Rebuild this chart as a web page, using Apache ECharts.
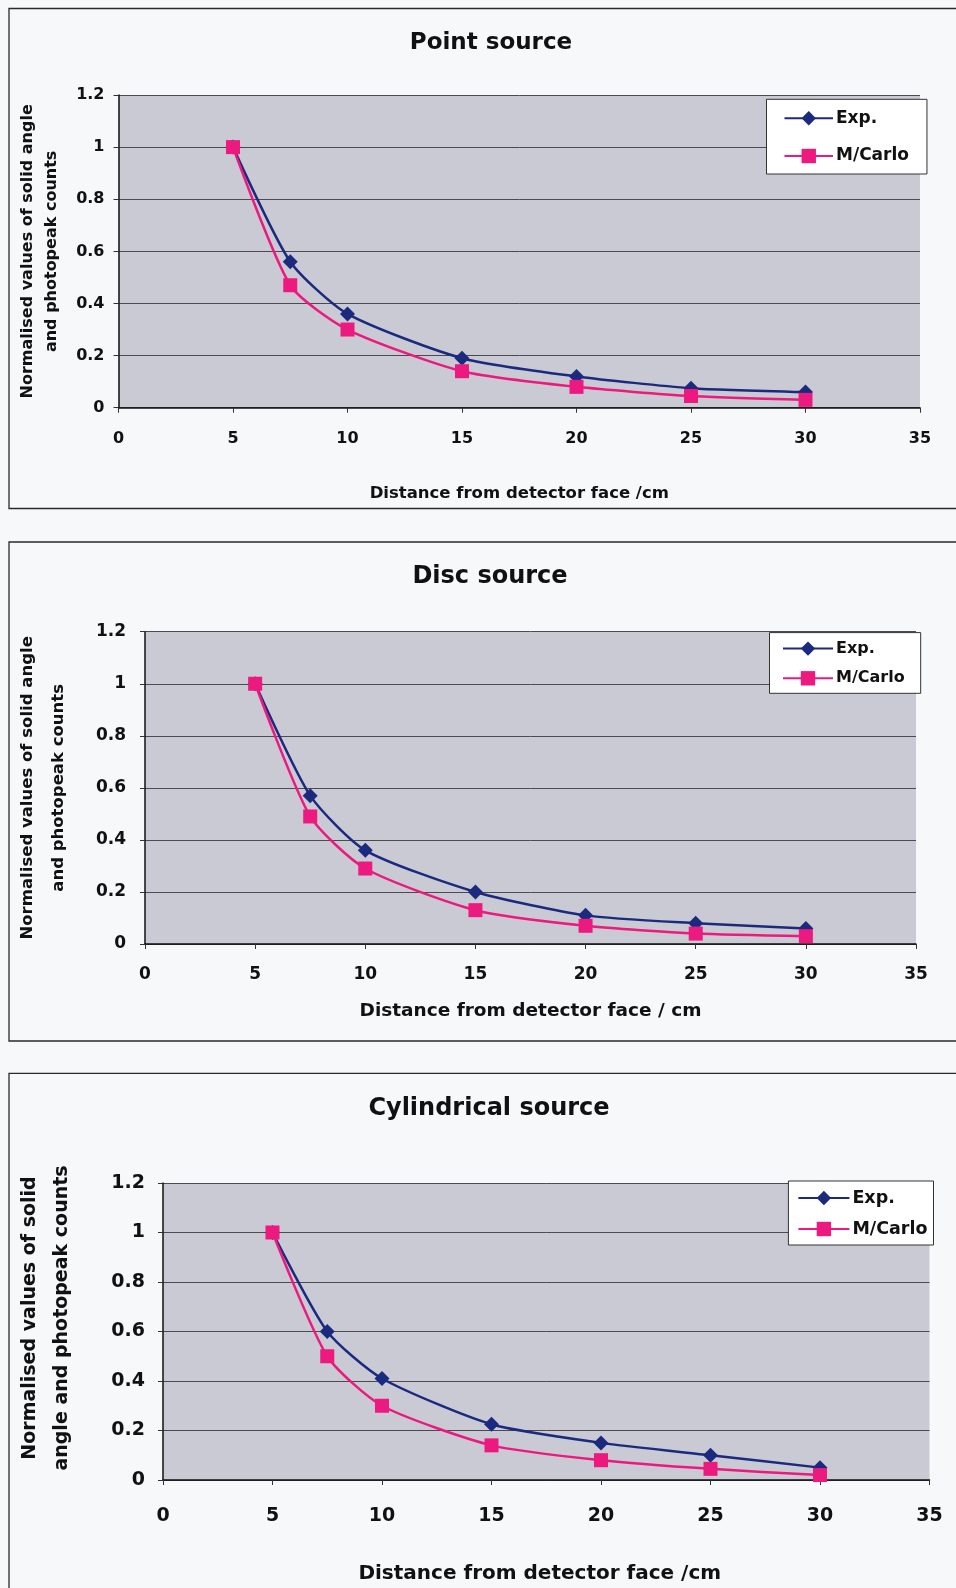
<!DOCTYPE html>
<html>
<head>
<meta charset="utf-8">
<title>Normalised solid angle and photopeak counts vs distance</title>
<script src="https://cdn.jsdelivr.net/npm/echarts@6/dist/echarts.min.js"></script>
<style>
  html, body { margin: 0; padding: 0; background: #f6f8fa; }
  #chart { width: 956px; height: 1588px; }
</style>
</head>
<body>
<div id="chart"></div>
<script>
// Source-to-detector distances (cm) shared by every panel
const distances = [5, 7.5, 10, 15, 20, 25, 30];

// Point source
const pointExp = [1, 0.56, 0.36, 0.19, 0.12, 0.075, 0.06];
const pointMC  = [1, 0.47, 0.30, 0.14, 0.08, 0.045, 0.03];

// Disc source
const discExp = [1, 0.57, 0.36, 0.20, 0.11, 0.08, 0.06];
const discMC  = [1, 0.49, 0.29, 0.13, 0.07, 0.04, 0.03];

// Cylindrical source
const cylExp = [1, 0.60, 0.41, 0.225, 0.15, 0.10, 0.05];
const cylMC  = [1, 0.50, 0.30, 0.14, 0.08, 0.045, 0.02];

const seriesNames = ['Exp.', 'M/Carlo'];
const panelTitles = ['Point source', 'Disc source', 'Cylindrical source'];
const xTitles = ['Distance from detector face /cm', 'Distance from detector face / cm', 'Distance from detector face /cm'];
const yTitles = [
  'Normalised values of solid angle\nand photopeak counts',
  'Normalised values of solid angle\nand photopeak counts',
  'Normalised values of solid\nangle and photopeak counts'
];

const FONT = 'DejaVu Sans';
const EXP_COLOR = '#1b2a7e';
const MC_COLOR = '#ec1a7e';

const pairs = vals => distances.map((d, i) => [d, vals[i]]);

// Layout of the three stacked panels
const panels = [
  { grid: { left: 118.5, right: 36, top: 95, height: 312.7 },
    title: { x: 486, y: 40, size: 23 },
    tick: 16, yMargin: 14, xMargin: 23,
    xName: { size: 16.5, gap: 78, pad: [0, 0, 0, 0] },
    yName: { size: 16, lh: 24.4, gap: 54, pad: [0, 0, 0, 0] },
    legend: { left: 766.5, top: 99.3, pad: [10, 18, 9, 17], gap: 19.7, font: 17, w: 48.5 } },
  { grid: { left: 145, right: 40, top: 631.7, height: 312.3 },
    title: { x: 485, y: 574, size: 24 },
    tick: 17, yMargin: 19, xMargin: 22,
    xName: { size: 18.5, gap: 58, pad: [0, 0, 0, 0] },
    yName: { size: 16.5, lh: 30.6, gap: 71, pad: [0, 0, 0, 0] },
    legend: { left: 769.5, top: 632.6, pad: [7, 16, 6, 12.5], gap: 11.7, font: 16, w: 50 } },
  { grid: { left: 163, right: 26.5, top: 1183, height: 297 },
    title: { x: 484, y: 1106, size: 24 },
    tick: 19, yMargin: 18, xMargin: 27,
    xName: { size: 20, gap: 84, pad: [0, 13, 0, 0] },
    yName: { size: 19, lh: 31.7, gap: 85, pad: [0, 0, 0, 27] },
    legend: { left: 788.4, top: 1181, pad: [8, 6, 7, 9], gap: 13, font: 17.5, w: 51 } }
];

const data = [[pointExp, pointMC], [discExp, discMC], [cylExp, cylMC]];

const option = {
  backgroundColor: '#f6f8fa',
  animation: false,
  title: panels.map((p, i) => ({
    text: panelTitles[i],
    left: p.title.x,
    top: p.title.y - p.title.size * 0.6,
    textAlign: 'center',
    textStyle: { fontFamily: FONT, fontWeight: 'bold', fontSize: p.title.size, color: '#111' }
  })),
  grid: panels.map(p => Object.assign({
    show: true,
    backgroundColor: '#c9cad3',
    borderWidth: 0
  }, p.grid)),
  xAxis: panels.map((p, i) => ({
    type: 'value',
    gridIndex: i,
    min: 0, max: 35, interval: 5,
    name: xTitles[i],
    nameLocation: 'middle',
    nameGap: p.xName.gap,
    nameTextStyle: { fontFamily: FONT, fontWeight: 'bold', fontSize: p.xName.size, color: '#111', padding: p.xName.pad },
    axisLine: { show: true, onZero: false, lineStyle: { color: '#111', width: 1.5 } },
    axisTick: { show: true, inside: false, length: 5, lineStyle: { color: '#333' } },
    axisLabel: { margin: p.xMargin, fontFamily: FONT, fontWeight: 'bold', fontSize: p.tick, color: '#111' },
    splitLine: { show: false }
  })),
  yAxis: panels.map((p, i) => ({
    type: 'value',
    gridIndex: i,
    min: 0, max: 1.2, interval: 0.2,
    name: yTitles[i],
    nameLocation: 'middle',
    nameRotate: 90,
    nameGap: p.yName.gap,
    nameTextStyle: {
      fontFamily: FONT, fontWeight: 'bold', fontSize: p.yName.size,
      lineHeight: p.yName.lh, color: '#111', align: 'center', padding: p.yName.pad
    },
    axisLine: { show: true, lineStyle: { color: '#111', width: 1.5 } },
    axisTick: { show: true, inside: false, length: 5, lineStyle: { color: '#333' } },
    axisLabel: {
      margin: p.yMargin, fontFamily: FONT, fontWeight: 'bold', fontSize: p.tick, color: '#111',
      formatter: v => String(Math.round(v * 10) / 10)
    },
    splitLine: { show: true, lineStyle: { color: '#4a4a50', width: 1 } }
  })),
  legend: panels.map(p => ({
    orient: 'vertical',
    left: p.legend.left,
    top: p.legend.top,
    padding: p.legend.pad,
    itemGap: p.legend.gap,
    itemWidth: p.legend.w,
    itemHeight: 18,
    backgroundColor: '#ffffff',
    borderColor: '#333',
    borderWidth: 1,
    borderRadius: 0,
    selectedMode: false,
    textStyle: {
      fontFamily: FONT, fontWeight: 'bold', fontSize: p.legend.font, lineHeight: 18,
      color: '#111', padding: [0, 0, 0, -2]
    },
    data: seriesNames
  })),
  series: []
};

data.forEach((pair, i) => {
  option.series.push({
    name: seriesNames[0],
    type: 'line',
    xAxisIndex: i, yAxisIndex: i,
    data: pairs(pair[0]),
    smooth: 0.22,
    symbol: 'diamond',
    symbolSize: 15,
    itemStyle: { color: EXP_COLOR },
    lineStyle: { color: EXP_COLOR, width: 2.5 },
    z: 3
  });
  option.series.push({
    name: seriesNames[1],
    type: 'line',
    xAxisIndex: i, yAxisIndex: i,
    data: pairs(pair[1]),
    smooth: 0.22,
    symbol: 'rect',
    symbolSize: 14,
    itemStyle: { color: MC_COLOR },
    lineStyle: { color: MC_COLOR, width: 2.5 },
    z: 4
  });
});

// Thin frames around each panel
option.graphic = [
  { type: 'rect', shape: { x: 9, y: 8.5, width: 960, height: 500 }, style: { fill: 'none', stroke: '#2a2a2a', lineWidth: 1.3 }, silent: true, z: -1 },
  { type: 'rect', shape: { x: 9, y: 542, width: 960, height: 499 }, style: { fill: 'none', stroke: '#2a2a2a', lineWidth: 1.3 }, silent: true, z: -1 },
  { type: 'rect', shape: { x: 9, y: 1073.3, width: 960, height: 540 }, style: { fill: 'none', stroke: '#2a2a2a', lineWidth: 1.3 }, silent: true, z: -1 }
];

const chart = echarts.init(document.getElementById('chart'), null, { renderer: 'canvas' });
chart.setOption(option);
</script>
</body>
</html>
